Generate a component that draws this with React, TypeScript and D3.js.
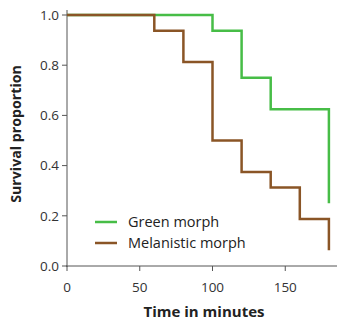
import React from "react";
import * as d3 from "d3";

const greenTimes = [0, 100, 120, 140, 180];
const greenSurv = [1.0, 0.9375, 0.75, 0.625, 0.25];
const melTimes = [0, 60, 80, 100, 120, 140, 160, 180];
const melSurv = [1.0, 0.9375, 0.8125, 0.5, 0.375, 0.3125, 0.1875, 0.0625];
const xTicks = [0, 50, 100, 150];
const yTicks = [0, 0.2, 0.4, 0.6, 0.8, 1.0];
const seriesNames = ["Green morph", "Melanistic morph"];
const colors = ["#47bd47", "#8a5526"];
const endTime = 180;

export default function App() {
  const W = 339, H = 325;
  const x = d3.scaleLinear().domain([0, 100]).range([67, 212.5]);
  const y = d3.scaleLinear().domain([0, 1]).range([266, 15]);
  const font = "'Open Sans', 'Noto Sans', sans-serif";

  const buildPath = (times: number[], surv: number[]) => {
    const t = times.slice(0, -1);
    const s = surv.slice(0, -1);
    const pts: [number, number][] = t.map((v, i) => [v, s[i]]);
    pts.push([endTime, s[s.length - 1]]);
    pts.push([endTime, surv[surv.length - 1]]);
    return d3.line<[number, number]>().x(d => x(d[0])).y(d => y(d[1])).curve(d3.curveStepAfter)(pts) || "";
  };
  const greenPath = buildPath(greenTimes, greenSurv);
  const melPath = buildPath(melTimes, melSurv);

  return (
    <svg width={W} height={H} style={{ position: "absolute", left: 0, top: 0 }} fontFamily={font}>
      <rect width={W} height={H} fill="#fff" />
      <line x1={67} x2={67} y1={10} y2={267} stroke="#555" strokeWidth={1} />
      <line x1={66} x2={337} y1={266} y2={266} stroke="#555" strokeWidth={1} />
      {yTicks.map(t => (
        <g key={t}>
          <line x1={62} x2={67} y1={y(t)} y2={y(t)} stroke="#555" />
          <text x={59} y={y(t)} dy="0.35em" textAnchor="end" fontSize={13.5} fill="#333">{t.toFixed(1)}</text>
        </g>
      ))}
      {xTicks.map(t => (
        <g key={t}>
          <line x1={x(t)} x2={x(t)} y1={266} y2={271} stroke="#555" />
          <text x={x(t)} y={292} textAnchor="middle" fontSize={13.5} fill="#333">{t}</text>
        </g>
      ))}
      <path d={greenPath} fill="none" stroke={colors[0]} strokeWidth={2.5} />
      <path d={melPath} fill="none" stroke={colors[1]} strokeWidth={2.5} />
      {seriesNames.map((n, i) => (
        <g key={n}>
          <line x1={95} x2={117} y1={222 + i * 21} y2={222 + i * 21} stroke={colors[i]} strokeWidth={2.5} />
          <text x={128} y={222 + i * 21} dy="0.35em" fontSize={14.5} fill="#222">{n}</text>
        </g>
      ))}
      <text transform="translate(16,134) rotate(-90)" textAnchor="middle" dy="0.35em" fontSize={14.2} fontWeight="bold" fill="#222">Survival proportion</text>
      <text x={204} y={317} textAnchor="middle" fontSize={15} fontWeight="bold" fill="#222">Time in minutes</text>
    </svg>
  );
}
